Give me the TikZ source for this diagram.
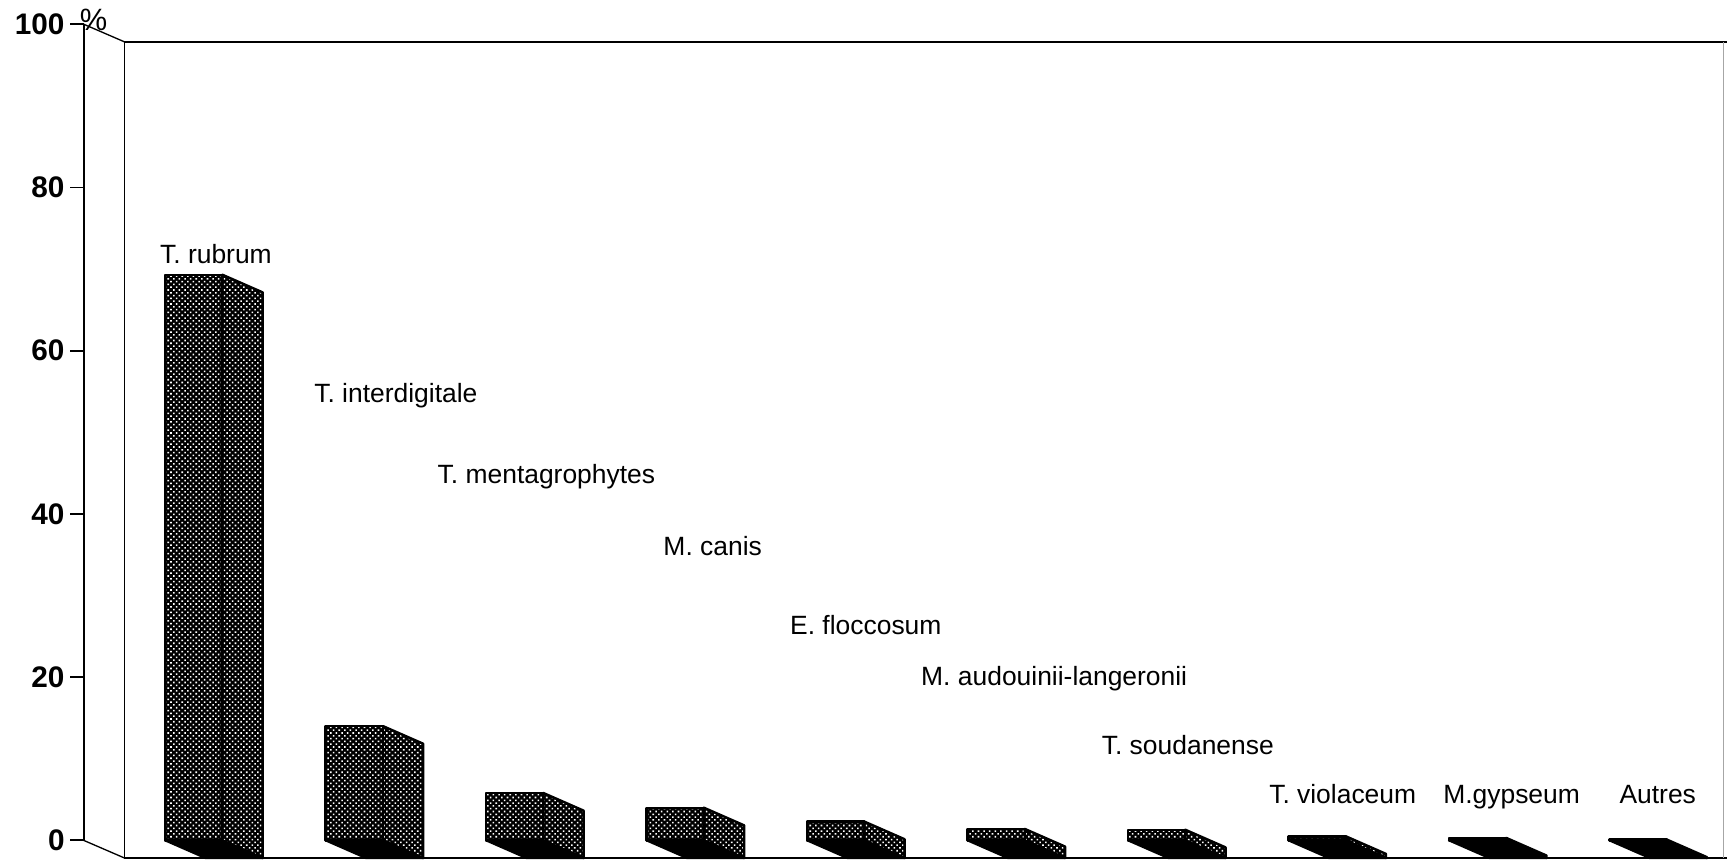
\documentclass[tikz,border=0pt]{standalone}
\usepackage{fontspec}
\setmainfont{Liberation Sans}
\usetikzlibrary{patterns.meta}

\begin{document}
\begin{tikzpicture}[x=0.5pt,y=0.5pt,
  bar/.style={preaction={fill=black},
    preaction={pattern={Dots[distance=1.8pt,radius=0.5pt,angle=45]},pattern color=white},
    draw=black,line width=1.1pt,line join=round},
  floor/.style={draw=black,line width=1pt,line join=round,fill=black},
  lab/.style={inner sep=0pt,anchor=mid west,font=\fontsize{12}{14}\selectfont},
  tick/.style={inner sep=0pt,anchor=east,font=\fontsize{13.5}{16}\selectfont\bfseries}]
\useasboundingbox (-76,-19.6) rectangle (1492,763);

\draw[line width=0.6pt] (37,725) -- (1492,725);
\draw[line width=0.6pt] (37,725) -- (37,-16) -- (1492,-16);
\draw[line width=0.5pt,black!35] (1489,725) -- (1489,-16);
\draw[line width=0.6pt] (0,741) -- (37,725);
\draw[line width=0.6pt] (0,0) -- (37,-16);
\draw[line width=1pt] (0,0) -- (0,741);

\foreach \y in {0,20,40,60,80,100} {
  \draw[line width=0.8pt] (-12,7.41*\y) -- (0,7.41*\y);
  \node[tick] (t\y) at (-17,7.41*\y) {\y};
}
\node[inner sep=0pt,font=\fontsize{14}{16}\selectfont] (pct) at (9,745) {\%};

\foreach \k/\v in {0/69.3,1/14,2/5.8,3/4,4/2.3,5/1.4,6/1.3,7/0.5,8/0.3,9/0.1} {
  \begin{scope}[xshift=\k*72.85pt]
    \draw[floor] (74,0) -- (126,0) -- (162.5,-16) -- (110.5,-16) -- cycle;
    \draw[bar] (74,0) rectangle (126,7.41*\v);
    \draw[bar] (126,0) -- (162.5,-16) -- (162.5,7.41*\v-16) -- (126,7.41*\v) -- cycle;
  \end{scope}
}

\node[lab] (rubrum) at (69,529) {T. rubrum};
\node[lab] (interdig) at (209,403) {T. interdigitale};
\node[lab] (menta) at (321,329) {T. mentagrophytes};
\node[lab] (canis) at (526,264) {M. canis};
\node[lab] (flocc) at (641,192) {E. floccosum};
\node[lab] (audou) at (760,146) {M. audouinii-langeronii};
\node[lab] (souda) at (924,83) {T. soudanense};
\node[lab] (viola) at (1076,39) {T. violaceum};
\node[lab] (gyps) at (1234,39) {M.gypseum};
\node[lab] (autres) at (1394,39) {Autres};

\end{tikzpicture}
\end{document}
